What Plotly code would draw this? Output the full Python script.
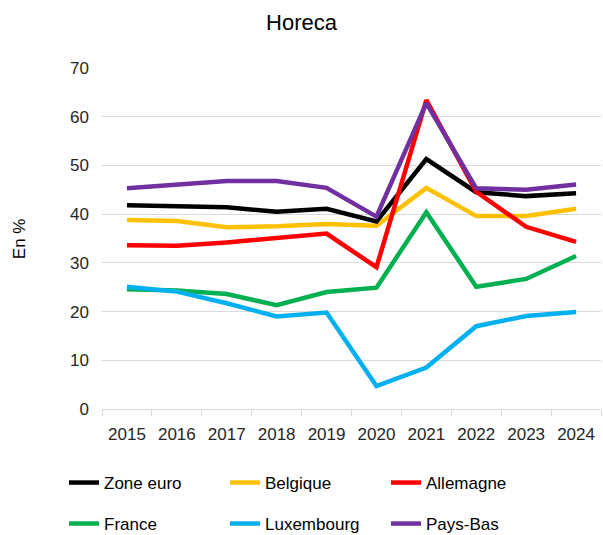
import plotly.graph_objects as go

years = ["2015", "2016", "2017", "2018", "2019", "2020", "2021", "2022", "2023", "2024"]
zone_euro = [41.8, 41.7, 41.4, 40.5, 41.1, 38.5, 51.3, 44.5, 43.7, 44.3]
belgique = [38.8, 38.6, 37.3, 37.5, 38.0, 37.6, 45.4, 39.6, 39.6, 41.1]
allemagne = [33.6, 33.5, 34.2, 35.0, 36.0, 29.1, 63.4, 44.6, 37.4, 34.3]
france = [24.6, 24.3, 23.6, 21.3, 24.0, 24.9, 40.4, 25.1, 26.7, 31.4]
luxembourg = [25.1, 24.1, 21.7, 19.0, 19.8, 4.7, 8.5, 17.0, 19.1, 19.9]
pays_bas = [45.3, 46.1, 46.8, 46.8, 45.4, 39.5, 62.8, 45.3, 45.0, 46.1]

names = ["Zone euro", "Belgique", "Allemagne", "France", "Luxembourg", "Pays-Bas"]
values = [zone_euro, belgique, allemagne, france, luxembourg, pays_bas]
colors = ["#000000", "#FFC000", "#FF0000", "#00B050", "#00B0F0", "#7030A0"]

W, H = 603, 535
FONT = "Liberation Sans"
# legend text anchor positions (pixels) for each entry
leg_text_x = [104, 265, 426, 104, 265, 426]
leg_y = [483, 483, 483, 524, 524, 524]

fig = go.Figure()
order = [1, 3, 4, 0, 2, 5]
legend_layout = {}
for i in order:
    key = "legend" if i == 0 else f"legend{i + 1}"
    fig.add_trace(go.Scatter(x=years, y=values[i], name=names[i], mode="lines",
                             line=dict(color=colors[i], width=4.5), legend=key,
                             showlegend=True))
for i in range(6):
    key = "legend" if i == 0 else f"legend{i + 1}"
    legend_layout[key] = dict(
        xref="container", yref="container",
        x=(leg_text_x[i] - 40) / W, xanchor="left",
        y=1 - leg_y[i] / H, yanchor="middle",
        font=dict(size=17, color="#000000", family=FONT),
        bgcolor="rgba(0,0,0,0)", borderwidth=0, visible=True,
    )

fig.update_layout(
    width=W, height=H, showlegend=True,
    margin=dict(l=102, r=2, t=68, b=126, autoexpand=False),
    paper_bgcolor="white", plot_bgcolor="white",
    font=dict(family=FONT, size=17, color="#262626"),
    title=dict(text="Horeca", x=0.5, xanchor="center", y=1 - 22 / H, yanchor="middle",
               font=dict(size=22, color="#000000", family=FONT)),
    xaxis=dict(type="category", range=[-0.5, 9.5], tickson="boundaries", ticks="outside",
               ticklen=6, tickcolor="#d9d9d9", showline=True, linecolor="#d9d9d9",
               linewidth=1, showgrid=False, ticklabelstandoff=10,
               tickfont=dict(size=17, color="#262626")),
    yaxis=dict(range=[0, 70], dtick=10, showgrid=True, gridcolor="#d9d9d9", gridwidth=1,
               zeroline=False, showline=False, ticks="", ticklabelstandoff=12,
               tickfont=dict(size=17, color="#262626")),
    annotations=[dict(text="En %", xref="paper", yref="paper", x=-0.165, y=0.5,
                      xanchor="center", yanchor="middle", textangle=-90, showarrow=False,
                      font=dict(size=17, color="#000000", family=FONT))],
    **legend_layout,
)

fig.write_html("out.html", config={"displayModeBar": False},
               post_script="document.body.style.margin='0';")
